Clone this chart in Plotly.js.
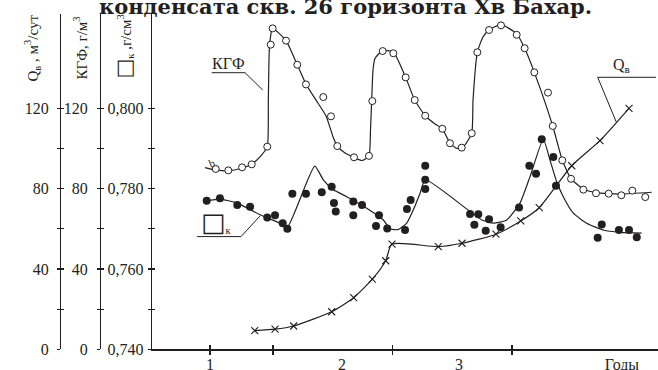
<!DOCTYPE html>
<html><head><meta charset="utf-8">
<script src="https://cdn.plot.ly/plotly-3.0.1.min.js"></script>
<style>html,body{margin:0;padding:0;background:#fff}#chart{width:658px;height:370px}</style>
</head><body><div id="chart"></div>
<script>
// ---------- data (x in years, values on their own axes) ----------
// Q_в, м3/сут  (crosses)
const qYears  = [0.847,1.017,1.173,1.491,1.675,1.831,1.943,1.996,2.383,2.582,2.866,3.073,3.228,3.500,3.736,3.979];
const qValues = [9.3,10.0,11.6,18.7,25.7,34.9,44.1,52.4,51.1,52.8,57.3,63.9,70.5,91.4,103.9,120.0];

// КГФ, г/м3 measured points (open circles)
const kgfYears  = [0.521,0.626,0.741,0.822,0.952,0.981,0.997,1.109,1.203,1.276,1.421,1.485,1.538,1.678,1.803,1.831,1.918,2.007,2.110,2.186,2.274,2.417,2.481,2.579,2.663,2.710,2.808,2.908,3.039,3.106,3.187,3.301,3.341,3.421,3.494,3.597,3.703,3.809,3.915,4.007,4.115];
const kgfValues = [89.8,89.1,90.6,92.1,100.9,151.7,159.8,153.7,141.7,131.9,125.6,116.0,101.2,95.6,96.3,123.6,148.5,147.4,135.4,124.1,116.3,109.8,102.6,100.4,107.6,147.9,159.0,161.3,156.6,149.9,137.9,127.8,111.2,94.1,84.9,79.5,77.7,77.5,76.7,79.0,75.8];
// КГФ trend curve
const kgfCurveYears  = [0.431,0.521,0.626,0.741,0.824,0.891,0.952,0.961,0.971,0.997,1.109,1.203,1.276,1.360,1.444,1.503,1.538,1.603,1.678,1.745,1.803,1.816,1.826,1.837,1.854,1.918,2.007,2.110,2.186,2.274,2.356,2.417,2.481,2.537,2.598,2.663,2.674,2.710,2.757,2.808,2.908,3.039,3.106,3.187,3.341,3.421,3.494,3.597,3.703,3.809,3.915,4.169];
const kgfCurveValues = [90.5,89.3,88.9,90.3,92.3,95.8,100.9,124.1,151.5,159.8,153.7,141.7,132.0,124.1,116.2,105.7,101.2,97.7,95.5,94.0,96.3,109.2,124.1,139.1,144.9,148.8,148.0,135.4,124.1,116.3,112.2,109.8,102.7,100.0,101.2,107.6,124.1,147.9,155.5,159.0,161.7,157.2,149.9,137.9,111.2,94.1,84.9,79.8,78.0,77.5,77.3,78.2];

// ρк, г/см3 measured points (filled circles)
const rhoYears  = [0.445,0.556,0.701,0.808,0.952,1.017,1.081,1.120,1.162,1.276,1.408,1.491,1.510,1.525,1.672,1.745,1.672,1.887,1.862,1.956,2.105,2.152,2.121,2.274,2.274,2.274,2.649,2.718,2.808,2.685,2.780,2.905,3.059,3.145,3.201,3.249,3.346,3.368,3.751,3.895,3.979,3.717,4.044];
const rhoValues = [0.7770,0.7776,0.7759,0.7755,0.7728,0.7734,0.7714,0.7700,0.7787,0.7787,0.7791,0.7805,0.7764,0.7743,0.7768,0.7759,0.7734,0.7734,0.7707,0.7701,0.7697,0.7772,0.7749,0.7857,0.7822,0.7799,0.7737,0.7736,0.7724,0.7710,0.7695,0.7704,0.7753,0.7857,0.7837,0.7923,0.7879,0.7807,0.7711,0.7697,0.7697,0.7678,0.7679];
// ρк trend curve
const rhoCurveYears  = [0.445,0.556,0.701,0.891,1.059,1.120,1.349,1.421,1.505,1.617,1.784,1.923,1.979,2.046,2.119,2.174,2.230,2.274,2.649,2.749,2.844,2.956,3.067,3.151,3.262,3.318,3.374,3.429,3.513,3.625,3.764,3.904,4.085];
const rhoCurveValues = [0.7770,0.7774,0.7764,0.7735,0.7714,0.7704,0.7856,0.7822,0.7797,0.7780,0.7751,0.7722,0.7700,0.7698,0.7714,0.7747,0.7788,0.7822,0.7743,0.7722,0.7714,0.7722,0.7764,0.7830,0.7923,0.7871,0.7817,0.7780,0.7739,0.7714,0.7697,0.7691,0.7689];

// tick labels
const qTickVals   = [0,20,40,60,80,100,120];
const qTickText   = ['0','','40','','80','','120'];
const kgfTickText = ['0','','40','','80','','120'];
const rhoTickVals = [0.740,0.750,0.760,0.770,0.780,0.790,0.800];
const rhoTickText = ['0,740','','0,760','','0,780','','0,800'];
const xTickVals   = [0.473,1,2,3];
const xLabelPos   = [0.473,1.577,2.556,3.92];
const xLabels     = ['1','2','3','Годы'];

// ---------- layout helpers ----------
const W = 658, H = 370;
const px = x => x / W, py = y => 1 - y / H;
const INK = '#231f20';
const SERIF = 'Liberation Serif, Times New Roman, serif';
const yDom = [py(349.3), py(14)];
const xDom = [px(152), 1];
const xRange = [-0.01255, 4.2218];
const vRange = [0, 166.96];
const rRange = [0.740, 0.82348];
const tf = {family: SERIF, size: 16, color: INK};

function yAx(extra) {
  return Object.assign({domain: yDom, showgrid: false, zeroline: false, fixedrange: true,
    linecolor: INK, linewidth: 1.4, tickcolor: INK, tickwidth: 1.2, ticklen: 3, tickfont: tf,
    tickmode: 'array'}, extra);
}
// invisible carrier traces so that the overlay axes (inside ticks, x labels) are drawn
function carrier(xa, ya) {
  return {x: qYears, y: qValues, xaxis: xa, yaxis: ya, mode: 'lines', opacity: 0,
          line: {width: 0}, hoverinfo: 'skip', showlegend: false};
}

const traces = [
  carrier('x2', 'y2'), carrier('x3', 'y4'), carrier('x', 'y6'),
  {x: kgfCurveYears, y: kgfCurveValues, yaxis: 'y3', mode: 'lines',
   line: {color: INK, width: 1.2, shape: 'spline', smoothing: 0.5}, hoverinfo: 'skip'},
  {x: kgfYears, y: kgfValues, yaxis: 'y3', mode: 'markers',
   marker: {symbol: 'circle', size: 7, color: '#fff', line: {color: INK, width: 1}}},
  {x: rhoCurveYears, y: rhoCurveValues, yaxis: 'y', mode: 'lines',
   line: {color: INK, width: 1.2, shape: 'spline', smoothing: 0.5}, hoverinfo: 'skip'},
  {x: rhoYears, y: rhoValues, yaxis: 'y', mode: 'markers',
   marker: {symbol: 'circle', size: 8, color: INK}},
  {x: qYears, y: qValues, yaxis: 'y5', mode: 'lines+markers',
   line: {color: INK, width: 1.2, shape: 'spline', smoothing: 0.6},
   marker: {symbol: 'x-thin', size: 7, color: INK, line: {color: INK, width: 1.1}}}
];

function note(text, x, y, size, extra) {
  return Object.assign({text: text, xref: 'paper', yref: 'paper', x: px(x), y: py(y),
    xanchor: 'center', yanchor: 'middle', showarrow: false,
    font: {family: SERIF, size: size, color: INK}}, extra || {});
}

const layout = {
  width: W, height: H, margin: {l: 0, r: 0, t: 0, b: 0},
  paper_bgcolor: '#fff', plot_bgcolor: 'rgba(0,0,0,0)', showlegend: false,
  xaxis: {domain: xDom, range: xRange, showgrid: false, zeroline: false, showline: true,
    linecolor: INK, linewidth: 1.4, ticks: 'outside', ticklen: 4, tickwidth: 1.2, tickcolor: INK,
    tickmode: 'array', tickvals: xTickVals, showticklabels: false, anchor: 'y'},
  xaxis2: {overlaying: 'x', range: xRange, showgrid: false, zeroline: false, showline: false,
    ticks: 'inside', ticklen: 4, tickwidth: 1.2, tickcolor: INK, tickmode: 'array',
    tickvals: xTickVals, showticklabels: false, anchor: 'y'},
  xaxis3: {overlaying: 'x', range: xRange, showgrid: false, zeroline: false, showline: false,
    ticks: '', tickmode: 'array', tickvals: xLabelPos, ticktext: xLabels, tickfont: tf,
    ticklabelstandoff: 4, anchor: 'y'},
  yaxis: yAx({range: rRange, anchor: 'x', showline: true, ticks: 'outside',
    tickvals: rhoTickVals, ticktext: rhoTickText, ticklabelstandoff: 1}),
  yaxis2: yAx({range: rRange, overlaying: 'y', anchor: 'x', showline: false, ticks: 'inside',
    tickvals: rhoTickVals, showticklabels: false}),
  yaxis3: yAx({range: vRange, overlaying: 'y', anchor: 'free', position: px(100), showline: true,
    ticks: 'outside', tickvals: qTickVals, ticktext: kgfTickText, ticklabelstandoff: 6}),
  yaxis4: yAx({range: vRange, overlaying: 'y', anchor: 'free', position: px(100), showline: false,
    ticks: 'inside', tickvals: qTickVals, showticklabels: false}),
  yaxis5: yAx({range: vRange, overlaying: 'y', anchor: 'free', position: px(60), showline: true,
    ticks: 'outside', tickvals: qTickVals, ticktext: qTickText, ticklabelstandoff: 5}),
  yaxis6: yAx({range: vRange, overlaying: 'y', anchor: 'free', position: px(60), showline: false,
    ticks: 'inside', tickvals: qTickVals, showticklabels: false}),
  annotations: [
    note('<b>конденсата скв. 26 горизонта Хв Бахар.</b>', 345, 6.5, 21,
         {font: {family: 'DejaVu Serif, serif', size: 21, color: INK}}),
    note('Q<sub>в</sub> , м<sup>3</sup>/сут', 32, 48.5, 15, {textangle: -90}),
    note('КГФ, г/м<sup>3</sup>', 80, 48.5, 15, {textangle: -90}),
    note('<span style="font-family:DejaVu Sans;font-size:21px">□</span><sub>к</sub> ,г/см<sup>3</sup>',
         124, 46.5, 15, {textangle: -90}),
    note('КГФ', 228, 63, 16),
    note('Q<sub>в</sub>', 621, 66, 16),
    note('<span style="font-family:DejaVu Sans;font-size:26px">□</span><sub>к</sub>', 199, 222, 15,
         {xanchor: 'left'}),
    note('b', 212, 163, 11, {textangle: -20})
  ],
  shapes: [
    {type: 'path', xref: 'paper', yref: 'paper', line: {color: INK, width: 1},
     path: `M ${px(211.7)} ${py(72.7)} L ${px(245)} ${py(72.7)} L ${px(262.7)} ${py(90)}`},
    {type: 'path', xref: 'paper', yref: 'paper', line: {color: INK, width: 1},
     path: `M ${px(656)} ${py(77.3)} L ${px(597.7)} ${py(77.3)} L ${px(616.7)} ${py(123)}`},
    {type: 'path', xref: 'paper', yref: 'paper', line: {color: INK, width: 1},
     path: `M ${px(197)} ${py(236.6)} L ${px(241)} ${py(236.6)} L ${px(260)} ${py(216)}`}
  ]
};

Plotly.newPlot('chart', traces, layout, {staticPlot: true, displayModeBar: false});
</script></body></html>
